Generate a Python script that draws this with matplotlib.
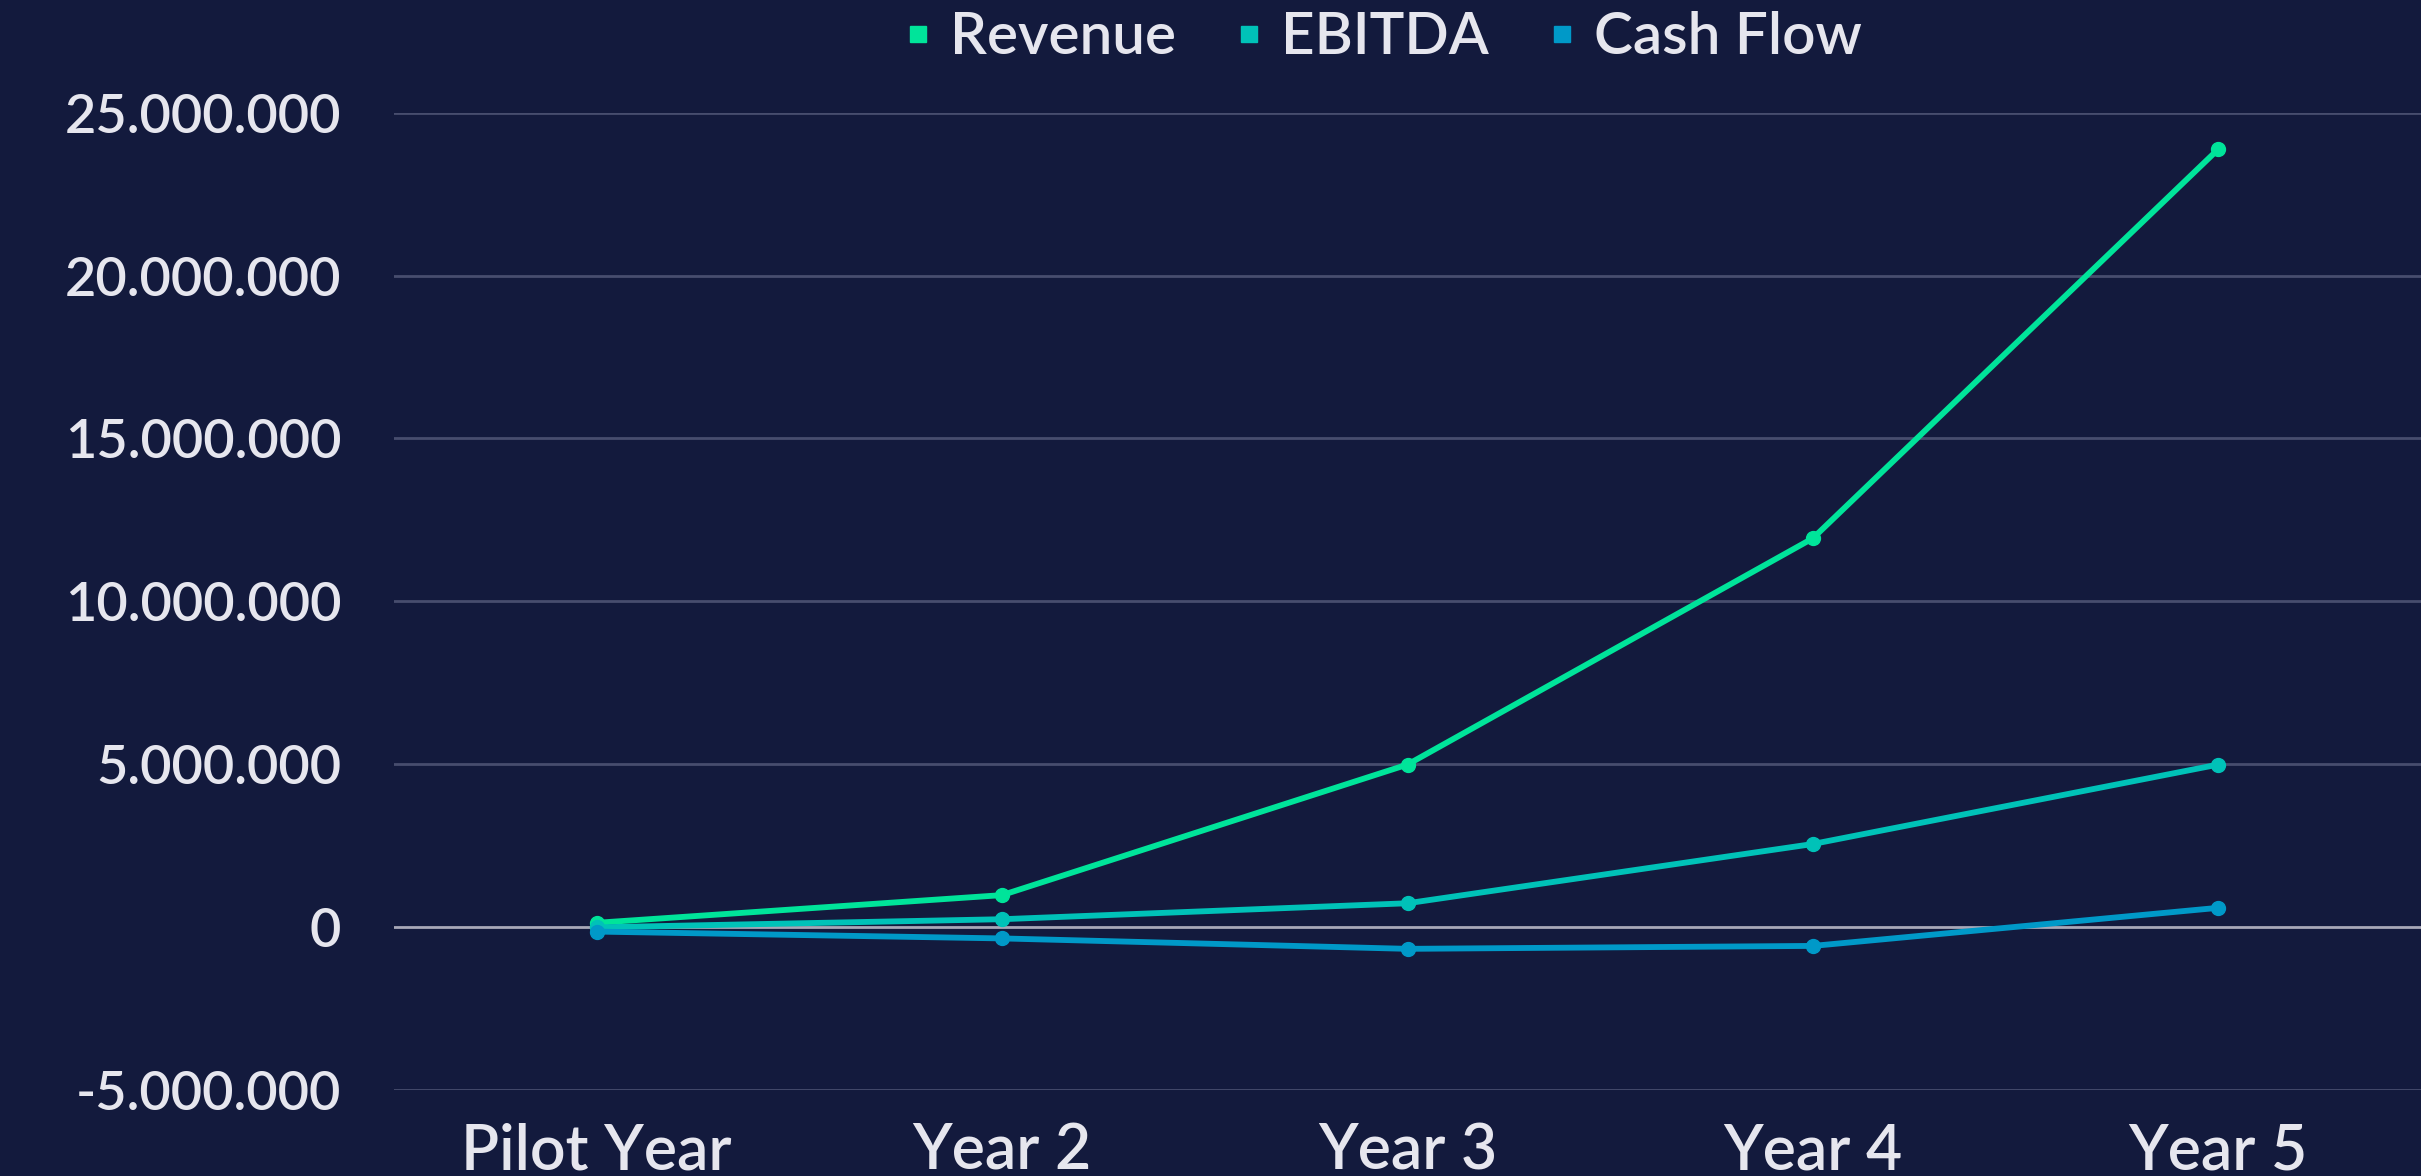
import matplotlib
matplotlib.use("Agg")
import matplotlib.pyplot as plt
from matplotlib.ticker import FuncFormatter, FixedLocator
from matplotlib.lines import Line2D

categories = ["Pilot Year", "Year 2", "Year 3", "Year 4", "Year 5"]
revenue = [120000, 970000, 4980000, 11930000, 23880000]
ebitda = [-20000, 230000, 720000, 2540000, 4980000]
cash_flow = [-150000, -360000, -680000, -590000, 580000]
series_names = ["Revenue", "EBITDA", "Cash Flow"]
y_ticks = [-5000000, 0, 5000000, 10000000, 15000000, 20000000, 25000000]

colors = ["#00E49A", "#00C2B8", "#0099C8"]
bg = "#131A3D"
txt = "#E6E6EE"

plt.rcParams['font.family'] = ['Lato', 'DejaVu Sans']
plt.rcParams['font.weight'] = 'semibold'

W, H = 2421, 1176
fig = plt.figure(figsize=(W / 100, H / 100), dpi=100, facecolor=bg)
ax = fig.add_axes([394 / W, (H - 1089.5) / H, (W - 394) / W, (1089.5 - 112.7) / H])
ax.set_facecolor(bg)

x = list(range(len(categories)))
for vals, name, c in zip([revenue, ebitda, cash_flow], series_names, colors):
    ax.plot(x, vals, color=c, lw=4.2, marker='o', markersize=10, label=name,
            solid_capstyle='round', zorder=3)

ax.set_xlim(-0.5, len(categories) - 0.5)
ax.set_ylim(y_ticks[0], y_ticks[-1])
ax.yaxis.set_major_locator(FixedLocator(y_ticks))
ax.yaxis.set_major_formatter(FuncFormatter(lambda v, p: f"{int(v):,}".replace(",", ".")))
ax.set_xticks(x)
ax.set_xticklabels(categories)

for t in y_ticks:
    if t == 0:
        ax.axhline(t, color="#A8A8B8", lw=2, zorder=1)
    else:
        ax.axhline(t, color="#474D6E", lw=2, zorder=1)

for s in ax.spines.values():
    s.set_visible(False)
ax.tick_params(axis='both', length=0, colors=txt)
ax.tick_params(axis='y', labelsize=39, pad=38)
ax.tick_params(axis='x', labelsize=45, pad=24)
for lab in ax.get_yticklabels() + ax.get_xticklabels():
    lab.set_color(txt)

handles = [Line2D([], [], linestyle='none', marker='s', markersize=12,
                  markerfacecolor=c, markeredgecolor=c) for c in colors]
leg = fig.legend(handles, series_names, loc='center', ncol=3,
                 bbox_to_anchor=(1383 / W, 1 - 38 / H), frameon=False,
                 fontsize=42, handlelength=0.5, handletextpad=0.3,
                 columnspacing=1.0, labelcolor=txt)

fig.savefig("out.png", dpi=100, facecolor=bg)
